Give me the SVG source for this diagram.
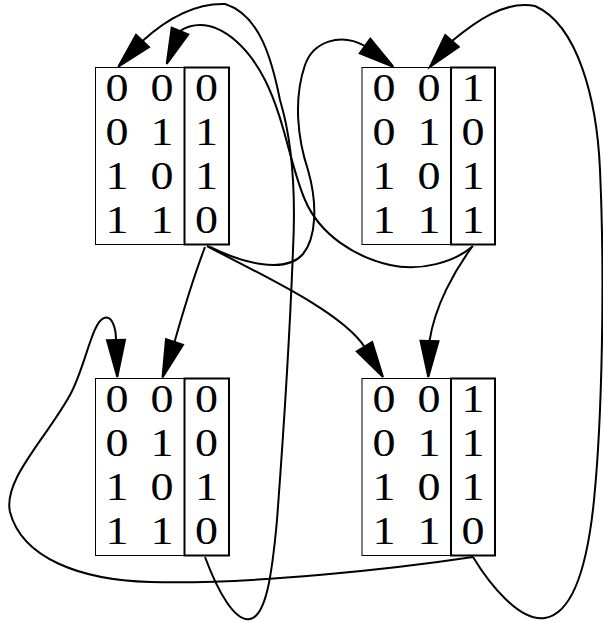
<svg xmlns="http://www.w3.org/2000/svg" width="603" height="622" viewBox="0 0 603 622">
<style>
.box{fill:#fff;stroke:#000;stroke-width:1}
.out{fill:none;stroke:#000;stroke-width:2}
.t{font-family:"Liberation Serif","Times New Roman",serif;font-size:39.5px;fill:#000;text-anchor:middle}
.e{fill:none;stroke:#000;stroke-width:2}
.ah{fill:#000;stroke:#000;stroke-width:2;stroke-linejoin:miter}
</style>
<rect width="603" height="622" fill="#fff"/>
<g id="node-tl">
<rect class="box" x="95.5" y="67.5" width="133.5" height="177"/>
<rect class="out" x="184.5" y="67.5" width="44.5" height="177"/>
<text class="t" x="117" y="101" textLength="23" lengthAdjust="spacingAndGlyphs">0</text><text class="t" x="162" y="101" textLength="23" lengthAdjust="spacingAndGlyphs">0</text><text class="t" x="206.5" y="101" textLength="23" lengthAdjust="spacingAndGlyphs">0</text>
<text class="t" x="117" y="145" textLength="23" lengthAdjust="spacingAndGlyphs">0</text><text class="t" x="162" y="145" textLength="23" lengthAdjust="spacingAndGlyphs">1</text><text class="t" x="206.5" y="145" textLength="23" lengthAdjust="spacingAndGlyphs">1</text>
<text class="t" x="117" y="189" textLength="23" lengthAdjust="spacingAndGlyphs">1</text><text class="t" x="162" y="189" textLength="23" lengthAdjust="spacingAndGlyphs">0</text><text class="t" x="206.5" y="189" textLength="23" lengthAdjust="spacingAndGlyphs">1</text>
<text class="t" x="117" y="233" textLength="23" lengthAdjust="spacingAndGlyphs">1</text><text class="t" x="162" y="233" textLength="23" lengthAdjust="spacingAndGlyphs">1</text><text class="t" x="206.5" y="233" textLength="23" lengthAdjust="spacingAndGlyphs">0</text>
</g>
<g id="node-tr">
<rect class="box" x="362" y="67.5" width="133" height="177"/>
<rect class="out" x="451" y="67.5" width="44" height="177"/>
<text class="t" x="384" y="101" textLength="23" lengthAdjust="spacingAndGlyphs">0</text><text class="t" x="429" y="101" textLength="23" lengthAdjust="spacingAndGlyphs">0</text><text class="t" x="473" y="101" textLength="23" lengthAdjust="spacingAndGlyphs">1</text>
<text class="t" x="384" y="145" textLength="23" lengthAdjust="spacingAndGlyphs">0</text><text class="t" x="429" y="145" textLength="23" lengthAdjust="spacingAndGlyphs">1</text><text class="t" x="473" y="145" textLength="23" lengthAdjust="spacingAndGlyphs">0</text>
<text class="t" x="384" y="189" textLength="23" lengthAdjust="spacingAndGlyphs">1</text><text class="t" x="429" y="189" textLength="23" lengthAdjust="spacingAndGlyphs">0</text><text class="t" x="473" y="189" textLength="23" lengthAdjust="spacingAndGlyphs">1</text>
<text class="t" x="384" y="233" textLength="23" lengthAdjust="spacingAndGlyphs">1</text><text class="t" x="429" y="233" textLength="23" lengthAdjust="spacingAndGlyphs">1</text><text class="t" x="473" y="233" textLength="23" lengthAdjust="spacingAndGlyphs">1</text>
</g>
<g id="node-bl">
<rect class="box" x="95.5" y="378.5" width="133.5" height="177"/>
<rect class="out" x="184.5" y="378.5" width="44.5" height="177"/>
<text class="t" x="117" y="412" textLength="23" lengthAdjust="spacingAndGlyphs">0</text><text class="t" x="162" y="412" textLength="23" lengthAdjust="spacingAndGlyphs">0</text><text class="t" x="206.5" y="412" textLength="23" lengthAdjust="spacingAndGlyphs">0</text>
<text class="t" x="117" y="456" textLength="23" lengthAdjust="spacingAndGlyphs">0</text><text class="t" x="162" y="456" textLength="23" lengthAdjust="spacingAndGlyphs">1</text><text class="t" x="206.5" y="456" textLength="23" lengthAdjust="spacingAndGlyphs">0</text>
<text class="t" x="117" y="500" textLength="23" lengthAdjust="spacingAndGlyphs">1</text><text class="t" x="162" y="500" textLength="23" lengthAdjust="spacingAndGlyphs">0</text><text class="t" x="206.5" y="500" textLength="23" lengthAdjust="spacingAndGlyphs">1</text>
<text class="t" x="117" y="544" textLength="23" lengthAdjust="spacingAndGlyphs">1</text><text class="t" x="162" y="544" textLength="23" lengthAdjust="spacingAndGlyphs">1</text><text class="t" x="206.5" y="544" textLength="23" lengthAdjust="spacingAndGlyphs">0</text>
</g>
<g id="node-br">
<rect class="box" x="362" y="378.5" width="133" height="177"/>
<rect class="out" x="451" y="378.5" width="44" height="177"/>
<text class="t" x="384" y="412" textLength="23" lengthAdjust="spacingAndGlyphs">0</text><text class="t" x="429" y="412" textLength="23" lengthAdjust="spacingAndGlyphs">0</text><text class="t" x="473" y="412" textLength="23" lengthAdjust="spacingAndGlyphs">1</text>
<text class="t" x="384" y="456" textLength="23" lengthAdjust="spacingAndGlyphs">0</text><text class="t" x="429" y="456" textLength="23" lengthAdjust="spacingAndGlyphs">1</text><text class="t" x="473" y="456" textLength="23" lengthAdjust="spacingAndGlyphs">1</text>
<text class="t" x="384" y="500" textLength="23" lengthAdjust="spacingAndGlyphs">1</text><text class="t" x="429" y="500" textLength="23" lengthAdjust="spacingAndGlyphs">0</text><text class="t" x="473" y="500" textLength="23" lengthAdjust="spacingAndGlyphs">1</text>
<text class="t" x="384" y="544" textLength="23" lengthAdjust="spacingAndGlyphs">1</text><text class="t" x="429" y="544" textLength="23" lengthAdjust="spacingAndGlyphs">1</text><text class="t" x="473" y="544" textLength="23" lengthAdjust="spacingAndGlyphs">0</text>
</g>
<g id="edges">
<path class="e" d="M205,247 C197,268 185,305 174.5,342"/>
<polygon class="ah" points="166,339.1 183,344.9 162.5,377.5"/>
<path class="e" d="M207,246 C255,272 340,310 364.5,346.7"/>
<polygon class="ah" points="356.8,351.4 372.2,342 383,377"/>
<path class="e" d="M210,247 C240,262 285,275 303,254 C316,238 318,205 308,170 C298,140 293,100 305,65 C313,42 340,32 365,46"/>
<polygon class="ah" points="359.7,53.3 370.3,38.7 393.3,66.7"/>
<path class="e" d="M473,246 C455,262 420,272 390,265 C355,257 320,235 305,200 C290,165 285,120 265,80 C250,50 225,25 200,25 C193,25 186,27 180,31"/>
<polygon class="ah" points="171.7,27.6 188.3,34.4 166.7,64"/>
<path class="e" d="M472,247 C455,270 435,305 429.5,341"/>
<polygon class="ah" points="420.5,340.7 438.5,341.3 428.3,377"/>
<path class="e" d="M205,557 C218,592 235,622 250,619 C266,616 272,575 277,520 C283,440 290,330 293,250 C296,190 292,140 280,100 C272,60 260,15 225,4 C190,3 160,25 142.5,41"/>
<polygon class="ah" points="136,34.8 149,47.2 118.3,66.7"/>
<path class="e" d="M473,557 C400,568 250,585 150,582 C80,580 22,558 10,512 C3,480 45,440 70,395 C85,368 92,322 104,318 C112,315 116,328 116,340"/>
<polygon class="ah" points="107,340.3 125,339.7 117.3,377"/>
<path class="e" d="M473,557 C490,585 520,622 545,618 C575,613 588,560 594,500 C602,420 605,280 600,170 C597,100 578,25 535,6 C505,0 475,22 452,41"/>
<polygon class="ah" points="445.2,35.1 458.8,46.9 430,66.7"/>
</g>
</svg>
